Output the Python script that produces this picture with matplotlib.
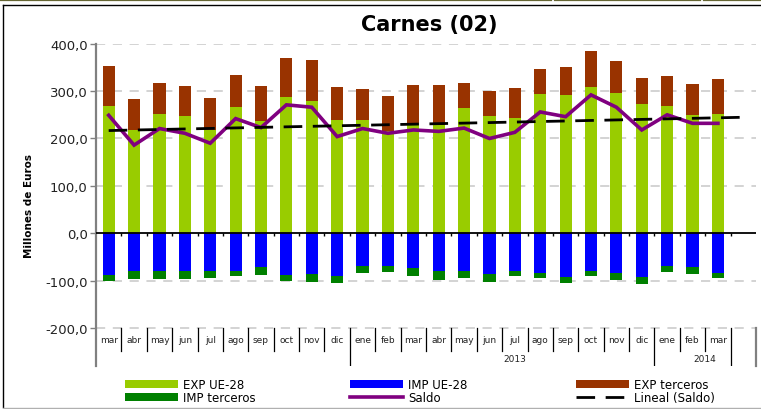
import matplotlib
matplotlib.use("Agg")
import matplotlib.pyplot as plt
from matplotlib.lines import Line2D
import numpy as np

# --- datos (millones de euros) ---
meses = ["mar", "abr", "may", "jun", "jul", "ago", "sep", "oct", "nov", "dic",
         "ene", "feb", "mar", "abr", "may", "jun", "jul", "ago", "sep", "oct",
         "nov", "dic", "ene", "feb", "mar"]
anios = [("2013", 10.5, 22.5), ("2014", 22.5, 25.5)]

exp_ue = [268, 218, 251, 247, 218, 266, 237, 287, 280, 239, 239, 216, 233,
          228, 264, 247, 243, 294, 292, 308, 296, 273, 268, 249, 251]
exp_ter = [84, 65, 66, 63, 67, 67, 73, 82, 85, 69, 65, 73, 80,
           84, 53, 53, 63, 52, 59, 76, 67, 54, 63, 66, 74]
imp_ue = [-88, -79, -79, -79, -79, -79, -72, -88, -85, -90, -69, -69, -73,
          -79, -79, -86, -79, -83, -92, -79, -83, -93, -69, -71, -83]
imp_ter = [-12, -18, -18, -18, -16, -12, -15, -12, -17, -14, -14, -12, -18,
           -20, -16, -16, -12, -12, -12, -12, -16, -15, -12, -14, -12]
saldo = [249, 186, 221, 211, 190, 242, 223, 271, 266, 204, 221, 211, 218,
         215, 222, 200, 213, 256, 246, 292, 266, 218, 250, 232, 232]

c_exp_ue = "#99cc00"
c_imp_ue = "#0000ff"
c_exp_ter = "#993300"
c_imp_ter = "#008000"
c_saldo = "#800080"

n = len(meses)
x = np.arange(1, n + 1)

fig = plt.figure(figsize=(7.61, 4.10), dpi=100)
ax = fig.add_axes([96 / 761, 1 - 367 / 410, 660 / 761, (367 - 44.7) / 410])
ax.set_xlim(0.5, n + 1.5)
ax.set_ylim(-280, 400)

# rejilla
for v in [400, 300, 200, 100, -100, -200]:
    ax.plot([0.5, n + 1.5], [v, v], color="#c8c8c8", lw=1.1,
            linestyle=(0, (6, 5)), zorder=0)

w = 0.48
b1 = ax.bar(x, exp_ue, w, color=c_exp_ue, zorder=2)
b3 = ax.bar(x, exp_ter, w, bottom=exp_ue, color=c_exp_ter, zorder=2)
b2 = ax.bar(x, imp_ue, w, color=c_imp_ue, zorder=2)
b4 = ax.bar(x, imp_ter, w, bottom=imp_ue, color=c_imp_ter, zorder=2)

# eje cero con marcas
ax.plot([0.5, n + 1.5], [0, 0], color="black", lw=1.3, zorder=3)
ax.vlines(np.arange(1.5, n + 1.5), -6, 0, color="black", lw=1, zorder=3)

l_saldo, = ax.plot(x, saldo, color=c_saldo, lw=2.6, zorder=4,
                   solid_joinstyle="miter")

# linea de tendencia (Lineal)
xt = np.arange(1, n + 2)
coef = np.polyfit(x, saldo, 1)
l_lin, = ax.plot(xt, np.polyval(coef, xt), color="black", lw=2.0,
                 dashes=(6.7, 3.8), zorder=5)

# eje y
for s in ["top", "right", "bottom"]:
    ax.spines[s].set_visible(False)
ax.spines["left"].set_color("#808080")
ax.spines["left"].set_linewidth(1.6)
ax.set_xticks([])
ax.set_yticks([-200, -100, 0, 100, 200, 300, 400])
ax.set_yticklabels([f"{v:.1f}".replace(".", ",") for v in
                    [-200, -100, 0, 100, 200, 300, 400]])
ax.tick_params(axis="y", length=4, width=1, color="#808080",
               labelsize=9.5, labelcolor="#222222", pad=2)
ax.set_ylabel("Millones de Euros", fontsize=7.5, fontweight="bold",
              labelpad=8)

# etiquetas de categorias
for i, m in enumerate(meses):
    ax.text(x[i], -225, m, ha="center", va="center", fontsize=6.5,
            color="#222222")
altos = [10.5, 22.5, 25.5]
for b in np.arange(1.5, n + 0.5):
    if b in altos:
        continue
    ax.plot([b, b], [-200, -248], color="black", lw=0.9, zorder=3)
for b in altos:
    ax.plot([b, b], [-200, -280], color="black", lw=0.9, zorder=3)
ax.plot([n + 1.5, n + 1.5], [-200, -280], color="#808080", lw=1.6,
        clip_on=False, zorder=3)
for a, x0, x1 in anios:
    ax.text((x0 + x1) / 2 + 0.5, -265, a, ha="center", va="center",
            fontsize=6.5, color="#222222")

fig.text(429.5 / 761, 1 - 25 / 410, "Carnes (02)", ha="center", va="center",
         fontsize=15, fontweight="bold")

# leyenda en tres columnas
cols = [
    (125, [b1, b4], ["EXP UE-28", "IMP terceros"]),
    (350, [b2, l_saldo], ["IMP UE-28", "Saldo"]),
    (576, [b3, l_lin], ["EXP terceros", "Lineal (Saldo)"]),
]
for px, hs, labs in cols:
    leg = fig.legend(hs, labs, loc="upper left",
                     bbox_to_anchor=(px / 761, 1 - 379 / 410),
                     frameon=False, fontsize=8.5, handlelength=4.5,
                     handleheight=0.7, handletextpad=0.4,
                     labelspacing=0.0, borderpad=0, borderaxespad=0)

# marco del grafico
fig.add_artist(Line2D([0, 551 / 761], [1 - 1 / 410] * 2, color="#666633",
                      lw=1.6))
fig.add_artist(Line2D([555 / 761, 700 / 761], [1 - 1 / 410] * 2,
                      color="#666633", lw=1.6))
fig.add_artist(Line2D([704 / 761, 1], [1 - 1 / 410] * 2, color="#666633",
                      lw=1.6))
fig.add_artist(Line2D([3 / 761, 1], [1 - 5.5 / 410] * 2, color="black",
                      lw=1))
fig.add_artist(Line2D([3 / 761, 3 / 761], [1 - 5.5 / 410, 1 - 408 / 410],
                      color="black", lw=1))
fig.add_artist(Line2D([3 / 761, 1], [1 - 408.5 / 410] * 2, color="#b0b0b0",
                      lw=1))

fig.savefig("out.png", dpi=100)
